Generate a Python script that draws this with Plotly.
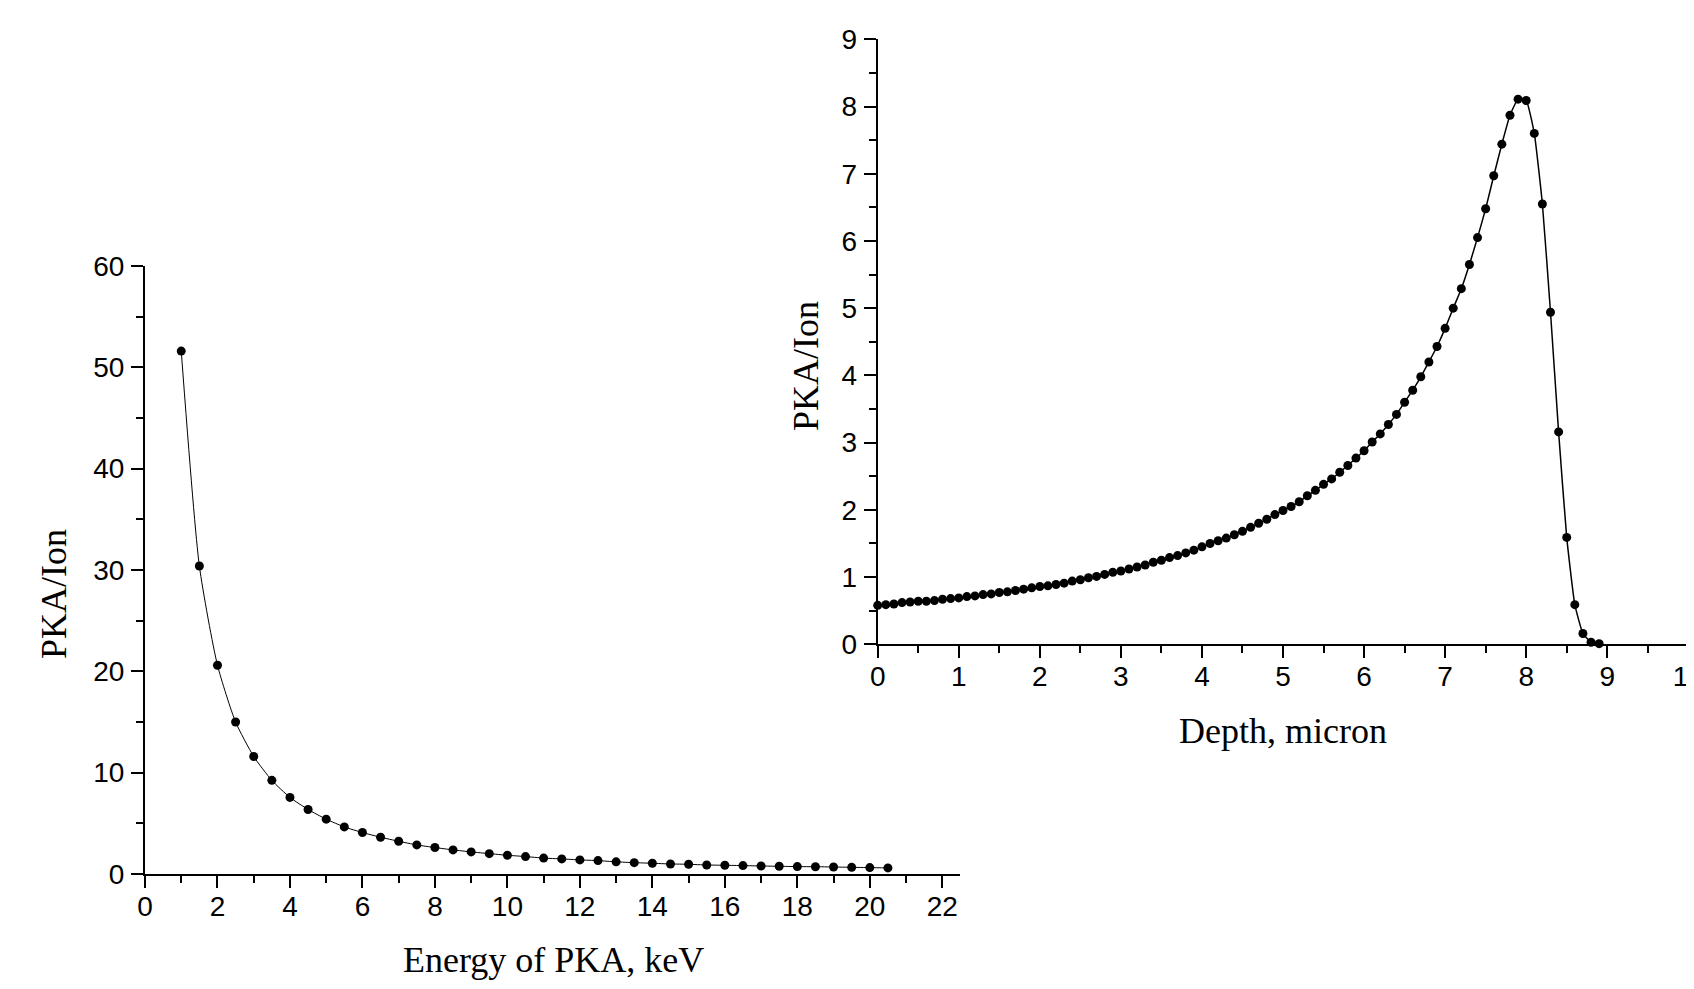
import plotly.graph_objects as go

# ---- Data: left panel (PKA energy spectrum) ----
energy_kev = [1.0, 1.5, 2.0, 2.5, 3.0, 3.5, 4.0, 4.5, 5.0, 5.5, 6.0, 6.5, 7.0, 7.5,
              8.0, 8.5, 9.0, 9.5, 10.0, 10.5, 11.0, 11.5, 12.0, 12.5, 13.0, 13.5,
              14.0, 14.5, 15.0, 15.5, 16.0, 16.5, 17.0, 17.5, 18.0, 18.5, 19.0,
              19.5, 20.0, 20.5]
pka_energy = [51.6, 30.4, 20.6, 15.0, 11.6, 9.24, 7.56, 6.37, 5.41, 4.65, 4.09,
              3.63, 3.23, 2.87, 2.61, 2.38, 2.18, 2.01, 1.85, 1.72, 1.57, 1.49,
              1.39, 1.32, 1.20, 1.12, 1.06, 0.99, 0.96, 0.89, 0.86, 0.83, 0.79,
              0.76, 0.73, 0.72, 0.69, 0.66, 0.63, 0.60]

# ---- Data: right panel (PKA depth distribution) ----
depth_um = [round(0.1 * i, 1) for i in range(90)]  # 0.0 ... 8.9 micron, step 0.1
pka_depth = [0.58, 0.59, 0.60, 0.62, 0.63, 0.64, 0.64, 0.65, 0.67, 0.68,
             0.69, 0.71, 0.72, 0.74, 0.75, 0.77, 0.78, 0.80, 0.82, 0.84,
             0.86, 0.87, 0.89, 0.91, 0.94, 0.96, 0.99, 1.01, 1.04, 1.07,
             1.09, 1.12, 1.15, 1.18, 1.22, 1.25, 1.29, 1.32, 1.36, 1.40,
             1.45, 1.50, 1.54, 1.58, 1.63, 1.68, 1.74, 1.80, 1.86, 1.93,
             1.99, 2.05, 2.12, 2.21, 2.29, 2.38, 2.46, 2.56, 2.66, 2.77,
             2.88, 3.01, 3.13, 3.27, 3.42, 3.60, 3.78, 3.98, 4.20, 4.43,
             4.70, 5.00, 5.29, 5.65, 6.05, 6.48, 6.97, 7.44, 7.87, 8.11,
             8.09, 7.60, 6.55, 4.94, 3.16, 1.59, 0.59, 0.16, 0.03, 0.01]

# ---- Labels ----
left_xtitle = "Energy of PKA, keV"
right_xtitle = "Depth, micron"
ytitle = "PKA/Ion"

W, H = 1694, 989
OFF = 8  # page body margin offset


def px_x(p):
    return (p - OFF) / W


def px_y(p):
    return (H - (p - OFF)) / H


tick_font = dict(family="Liberation Sans, Arial, sans-serif", size=28, color="black")
title_font = dict(family="Liberation Serif, Times New Roman, serif", size=36, color="black")

fig = go.Figure()

fig.add_trace(go.Scatter(
    x=energy_kev, y=pka_energy, mode="lines+markers",
    line=dict(color="black", width=1, shape="spline", smoothing=0.6),
    marker=dict(color="black", size=9),
    xaxis="x", yaxis="y", cliponaxis=False, showlegend=False,
))

fig.add_trace(go.Scatter(
    x=depth_um, y=pka_depth, mode="lines+markers",
    line=dict(color="black", width=1.5, shape="spline", smoothing=0.4),
    marker=dict(color="black", size=9),
    xaxis="x2", yaxis="y2", cliponaxis=False, showlegend=False,
))

common = dict(showline=True, linecolor="black", linewidth=2, ticks="outside",
              ticklen=12, tickwidth=2, tickcolor="black", showgrid=False,
              zeroline=False, tickfont=tick_font, automargin=False,
              ticklabeloverflow="allow")

minor_style = dict(ticks="outside", ticklen=7, tickwidth=2, tickcolor="black")

fig.update_layout(
    template=None,
    width=W, height=H,
    margin=dict(l=0, r=0, t=0, b=0, autoexpand=False),
    paper_bgcolor="white", plot_bgcolor="rgba(0,0,0,0)",
    xaxis=dict(domain=[px_x(145), px_x(145 + 22.5 * 36.24)], range=[0, 22.5],
               tick0=0, dtick=2, anchor="y", minor=dict(dtick=1, **minor_style),
               ticklabelstandoff=-6, **common),
    yaxis=dict(domain=[px_y(874), px_y(266)], range=[0, 60], tick0=0, dtick=10,
               anchor="x", minor=dict(dtick=5, **minor_style),
               ticklabelstandoff=1, **common),
    xaxis2=dict(domain=[px_x(877.7), px_x(1688.3)], range=[0, 10], tick0=0, dtick=1,
                anchor="y2", minor=dict(dtick=0.5, **minor_style),
                ticklabelstandoff=-6, **common),
    yaxis2=dict(domain=[px_y(644.3), px_y(39.3)], range=[0, 9], tick0=0, dtick=1,
                anchor="x2", minor=dict(dtick=0.5, **minor_style),
                ticklabelstandoff=1, **common),
    annotations=[
        dict(text=left_xtitle, x=px_x(553), y=px_y(960), xref="paper", yref="paper",
             xanchor="center", yanchor="middle", showarrow=False, font=title_font),
        dict(text=right_xtitle, x=px_x(1283), y=px_y(731), xref="paper", yref="paper",
             xanchor="center", yanchor="middle", showarrow=False, font=title_font),
        dict(text=ytitle, x=px_x(54), y=px_y(594), xref="paper", yref="paper",
             xanchor="center", yanchor="middle", showarrow=False, textangle=-90,
             font=title_font),
        dict(text=ytitle, x=px_x(806), y=px_y(366), xref="paper", yref="paper",
             xanchor="center", yanchor="middle", showarrow=False, textangle=-90,
             font=title_font),
    ],
)

fig.write_html("out.html")
